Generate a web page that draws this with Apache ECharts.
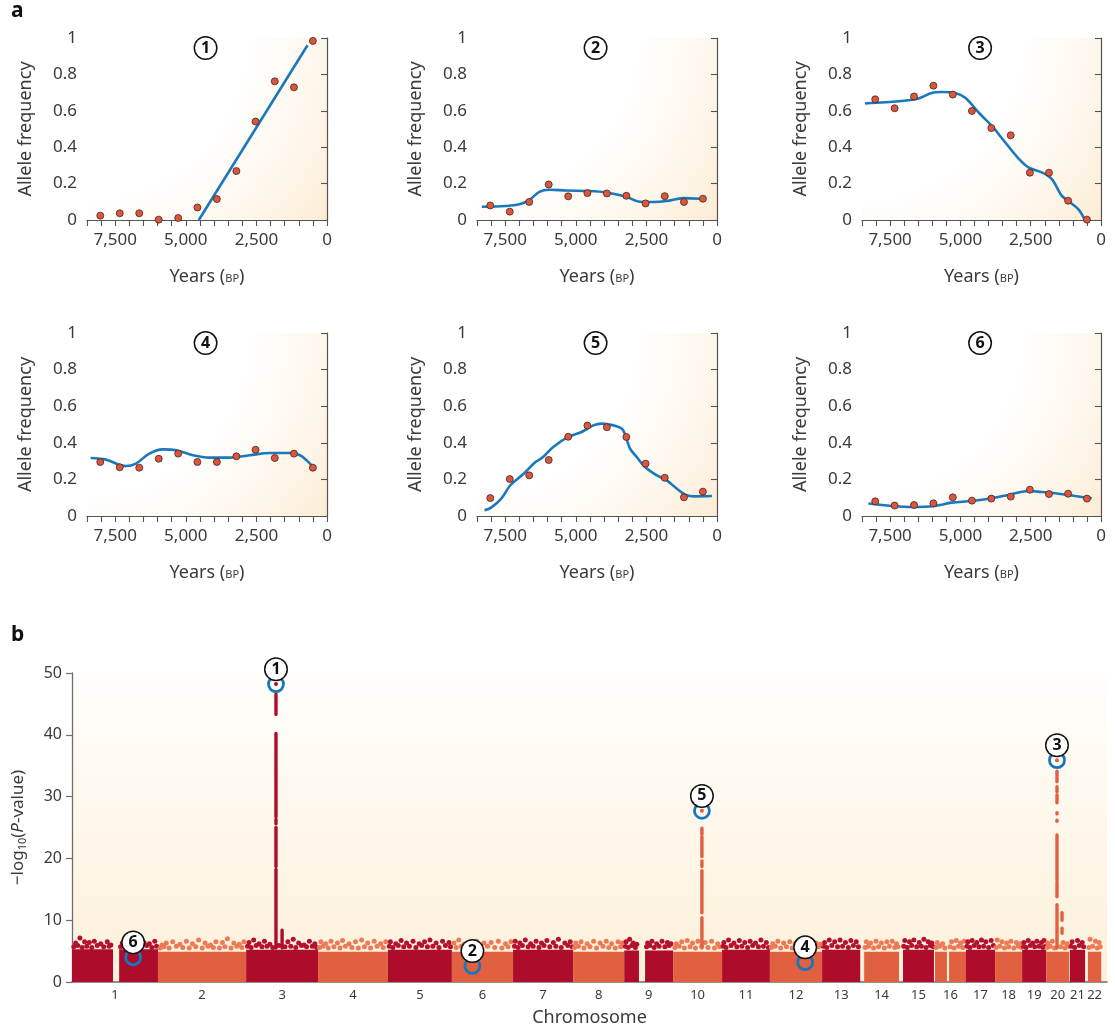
<!DOCTYPE html>
<html>
<head>
<meta charset="utf-8">
<script src="https://cdn.jsdelivr.net/npm/echarts@6/dist/echarts.min.js"></script>
<style>html,body{margin:0;padding:0;background:#fff}#main{width:1115px;height:1030px}</style>
</head>
<body>
<div id="main"></div>
<script>
var chart = echarts.init(document.getElementById('main'));

// ---- panel a: allele frequency time series ----
var sampleYears = [8030, 7340, 6650, 5960, 5270, 4590, 3900, 3210, 2530, 1850, 1170, 500];
var freq1 = [0.024, 0.037, 0.037, 0.002, 0.011, 0.069, 0.115, 0.269, 0.541, 0.762, 0.729, 0.984];
var freq2 = [0.080, 0.046, 0.099, 0.195, 0.130, 0.148, 0.146, 0.133, 0.091, 0.131, 0.099, 0.117];
var freq3 = [0.663, 0.614, 0.679, 0.738, 0.689, 0.599, 0.505, 0.465, 0.260, 0.260, 0.106, 0.002];
var freq4 = [0.295, 0.266, 0.264, 0.313, 0.341, 0.295, 0.295, 0.326, 0.362, 0.317, 0.341, 0.264];
var freq5 = [0.098, 0.202, 0.222, 0.306, 0.433, 0.494, 0.485, 0.432, 0.286, 0.209, 0.102, 0.133];
var freq6 = [0.080, 0.057, 0.060, 0.069, 0.102, 0.084, 0.095, 0.106, 0.144, 0.120, 0.122, 0.095];

// fitted curves (years BP, frequency)
var fit1 = [[4540, 0], [690, 0.96]];
var fit2 = [[8330, 0.073], [7480, 0.077], [7000, 0.086], [6650, 0.109], [6290, 0.155], [5940, 0.166], [5340, 0.162],
            [4510, 0.159], [3920, 0.151], [3210, 0.128], [2740, 0.100], [2260, 0.099], [1790, 0.104], [1200, 0.120], [600, 0.117]];
var fit3 = [[8390, 0.641], [7680, 0.647], [6850, 0.658], [6490, 0.668], [6020, 0.698], [5660, 0.703], [5190, 0.698],
            [4830, 0.672], [4360, 0.592], [3890, 0.518], [3410, 0.427], [2940, 0.339], [2580, 0.289], [2110, 0.262],
            [1750, 0.225], [1400, 0.134], [1160, 0.104], [810, 0.060], [590, 0.005]];
var fit4 = [[8370, 0.317], [7830, 0.308], [7120, 0.273], [6770, 0.286], [6290, 0.341], [5820, 0.364], [5340, 0.359],
            [4750, 0.332], [4160, 0.319], [3450, 0.319], [2740, 0.332], [2030, 0.344], [1320, 0.344], [960, 0.332],
            [720, 0.304], [510, 0.271]];
var fit5 = [[8235, 0.031], [8000, 0.046], [7640, 0.095], [7320, 0.168], [6870, 0.228], [6430, 0.295], [6160, 0.322],
            [5800, 0.377], [5270, 0.432], [4800, 0.459], [4380, 0.495], [4090, 0.505], [3555, 0.490], [3320, 0.468],
            [3080, 0.368], [2840, 0.322], [2550, 0.268], [2130, 0.222], [1780, 0.195], [1420, 0.149], [1125, 0.117],
            [830, 0.107], [180, 0.109]];
var fit6 = [[8270, 0.068], [7440, 0.055], [6730, 0.049], [5900, 0.055], [5310, 0.073], [4600, 0.082], [3890, 0.097],
            [3180, 0.119], [2580, 0.137], [2110, 0.131], [1520, 0.122], [920, 0.109], [330, 0.097]];
var panelTags = ['1', '2', '3', '4', '5', '6'];

// ---- panel b: genome scan (positions in Mb along the concatenated genome) ----
var chromNames = ['1','2','3','4','5','6','7','8','9','10','11','12','13','14','15','16','17','18','19','20','21','22'];
var chromStart = [0, 239, 484, 684, 878, 1056, 1226, 1393, 1535, 1671, 1807, 1940, 2085, 2202, 2310, 2399, 2485, 2566, 2641, 2708, 2774, 2824];
var chromEnd   = [239, 484, 684, 878, 1056, 1226, 1393, 1535, 1671, 1807, 1940, 2085, 2191, 2299, 2396, 2485, 2566, 2641, 2708, 2772, 2816, 2861];
var chromBulk  = [5.3, 4.9, 5.2, 4.9, 5.2, 4.9, 5.2, 4.9, 5.1, 4.9, 5.2, 4.9, 5.2, 4.9, 5.2, 4.9, 5.2, 4.9, 5.2, 4.9, 5.2, 4.9];
var chromGaps  = [[114, 131], [1576, 1593], [2432, 2438]];

// sparse SNPs just above the dense bulk
var fringeLow = [
  [5,5.7],[16,5.9],[28,5.6],[41,5.8],[55,5.6],[70,5.9],[88,5.7],[103,5.8],[135,5.7],[145,5.9],[157,5.6],[168,5.9],[182,5.7],[195,5.8],[208,5.9],[222,5.6],[235,5.8],
  [245,5.5],[256,5.7],[270,5.5],[290,5.8],[308,5.6],[326,5.5],[344,5.7],[362,5.5],[378,5.8],[393,5.6],[410,5.5],[425,5.7],[442,5.5],[458,5.8],[472,5.6],
  [488,5.8],[498,5.6],[512,5.9],[528,5.7],[542,5.8],[558,5.6],[575,5.9],[592,5.7],[608,5.8],[622,5.6],[638,5.9],[652,5.7],[668,5.8],[680,5.6],
  [688,5.6],[698,5.8],[712,5.5],[728,5.7],[745,5.5],[760,5.8],[778,5.6],[796,5.5],[813,5.7],[830,5.5],[848,5.8],[865,5.6],
  [882,5.8],[892,5.6],[907,5.9],[922,5.7],[938,5.8],[956,5.6],[972,5.9],[988,5.7],[1003,5.8],[1020,5.6],[1038,5.9],[1052,5.7],
  [1068,5.6],[1082,5.8],[1098,5.5],[1116,5.7],[1135,5.5],[1155,5.8],[1175,5.6],[1195,5.5],[1212,5.7],
  [1230,5.8],[1240,5.6],[1252,5.9],[1268,5.7],[1282,5.8],[1298,5.6],[1312,5.9],[1328,5.7],[1345,5.8],[1360,5.6],[1378,5.9],[1390,5.7],
  [1397,5.6],[1408,5.8],[1423,5.5],[1440,5.7],[1458,5.5],[1476,5.8],[1492,5.6],[1510,5.5],[1525,5.7],
  [1538,5.8],[1546,5.6],[1556,5.9],[1566,5.6],[1597,5.7],[1606,5.9],[1618,5.6],[1632,5.8],[1648,5.7],[1660,5.9],
  [1676,5.6],[1688,5.8],[1702,5.5],[1718,5.7],[1733,5.5],[1750,5.8],[1768,5.6],[1786,5.5],[1800,5.7],
  [1810,5.8],[1818,5.6],[1832,5.9],[1848,5.7],[1862,5.8],[1878,5.6],[1892,5.9],[1908,5.7],[1922,5.8],[1936,5.6],
  [1944,5.6],[1955,5.8],[1970,5.5],[1986,5.7],[2002,5.5],[2020,5.8],[2040,5.6],[2058,5.5],[2075,5.7],
  [2088,5.8],[2098,5.6],[2112,5.9],[2128,5.7],[2142,5.8],[2158,5.6],[2172,5.9],[2186,5.7],
  [2205,5.6],[2214,5.8],[2228,5.5],[2242,5.7],[2258,5.5],[2272,5.8],[2287,5.6],[2296,5.7],
  [2312,5.8],[2322,5.6],[2334,5.9],[2348,5.7],[2361,5.8],[2374,5.6],[2386,5.9],[2394,5.7],
  [2402,5.6],[2412,5.8],[2426,5.5],[2441,5.7],[2452,5.5],[2464,5.8],[2476,5.6],
  [2488,5.8],[2496,5.6],[2508,5.9],[2521,5.7],[2534,5.8],[2548,5.6],[2561,5.9],
  [2569,5.6],[2579,5.8],[2592,5.5],[2604,5.7],[2618,5.5],[2630,5.8],[2639,5.6],
  [2644,5.8],[2652,5.6],[2664,5.9],[2676,5.7],[2688,5.8],[2699,5.6],[2706,5.8],
  [2711,5.6],[2719,5.8],[2731,5.5],[2748,5.7],[2760,5.5],[2769,5.8],
  [2777,5.8],[2787,5.6],[2800,5.9],[2812,5.7],
  [2827,5.6],[2837,5.8],[2850,5.5],[2858,5.7]
];
// scattered SNPs higher up
var fringeHigh = [
  [10,6.3],[22,7.1],[35,6.5],[48,6.4],[62,6.6],[80,6.2],[98,6.5],[108,6.0],[140,6.3],[150,6.1],[162,6.6],[175,6.3],[190,6.7],[200,6.4],[215,6.2],[230,6.6],
  [250,6.0],[262,6.3],[280,6.5],[300,6.1],[318,6.6],[335,6.2],[352,6.8],[370,6.3],[385,6.0],[400,6.5],[418,6.4],[432,7.0],[450,6.3],[465,6.1],[478,6.5],
  [492,6.4],[505,6.8],[520,6.2],[535,6.6],[550,6.1],[600,6.5],[615,6.9],[630,6.3],[645,6.0],[660,6.6],[675,6.2],
  [692,6.5],[705,6.2],[720,6.6],[738,6.3],[752,6.7],[770,6.2],[788,6.5],[805,6.8],[822,6.3],[840,6.6],[858,6.2],[872,6.5],
  [885,6.5],[900,6.2],[915,6.7],[930,6.3],[948,6.6],[965,6.2],[980,6.5],[995,6.8],[1012,6.3],[1030,6.6],[1048,6.4],
  [1062,6.3],[1075,6.8],[1090,6.1],[1108,6.2],[1125,6.6],[1145,6.3],[1165,6.4],[1185,6.6],[1205,6.2],[1220,6.5],
  [1232,6.6],[1245,6.3],[1260,6.8],[1275,6.2],[1290,6.6],[1305,6.3],[1320,6.7],[1338,6.4],[1352,6.9],[1370,6.3],[1385,6.5],
  [1400,6.3],[1415,6.5],[1432,6.2],[1450,6.6],[1468,6.3],[1485,6.6],[1500,6.2],[1518,6.5],[1530,6.3],
  [1540,6.5],[1550,6.9],[1560,6.3],[1570,6.1],[1600,6.3],[1612,6.6],[1625,6.2],[1640,6.6],[1655,6.4],[1665,6.2],
  [1680,6.2],[1695,6.5],[1710,6.7],[1725,6.3],[1740,6.6],[1760,6.4],[1778,6.6],[1795,6.2],
  [1812,6.4],[1825,6.8],[1840,6.3],[1855,6.7],[1870,6.4],[1885,6.6],[1900,6.3],[1915,6.8],[1930,6.4],
  [1948,6.2],[1962,6.6],[1978,6.3],[1995,6.5],[2010,6.2],[2030,6.4],[2050,6.6],[2068,6.3],[2080,6.1],
  [2092,6.4],[2105,6.8],[2120,6.5],[2135,6.8],[2150,6.4],[2165,6.7],[2180,6.5],
  [2208,6.5],[2220,6.3],[2235,6.6],[2250,6.3],[2265,6.5],[2280,6.6],[2292,6.2],
  [2315,6.7],[2328,6.5],[2340,6.8],[2355,6.4],[2368,6.9],[2380,6.5],[2390,6.3],
  [2405,6.4],[2420,6.2],[2445,6.5],[2458,6.7],[2470,6.3],[2480,6.6],
  [2490,6.5],[2502,6.7],[2515,6.4],[2528,6.8],[2540,6.5],[2555,6.7],
  [2572,6.8],[2585,6.5],[2598,6.3],[2610,6.6],[2625,6.4],[2636,6.2],
  [2646,6.4],[2658,6.7],[2670,6.3],[2682,6.6],[2695,6.4],[2702,6.7],
  [2712,6.3],[2725,6.6],[2755,6.4],[2766,6.2],
  [2780,6.5],[2795,6.7],[2808,6.4],
  [2830,6.9],[2845,6.6],[2855,6.4]
];

// runs of significant SNPs stacked at the selected loci: [position, from, to]
var peakRuns = [
  [567,5.5,18.2],[567,18.7,25.0],[567,25.6,26.3],[567,26.7,40.2],[567,43.3,46.6],[584,5.5,8.4],
  [1751,5.5,10.4],[1751,11.2,18.0],[1751,18.7,19.6],[1751,20.3,23.5],[1751,23.9,24.9],
  [2738,5.5,12.5],[2738,13.8,16.2],[2738,16.5,23.8],[2738,26.0,26.2],[2738,27.2,27.4],
  [2738,29.0,30.3],[2738,30.8,31.6],[2738,32.4,34.1],[2752,7.9,8.7],[2752,10.0,11.2]
];
var peakTops = [[567, 48.2], [1751, 27.7], [2738, 35.9]];

// highlighted loci, numbered as in panel a
var hitPos = [567, 1113, 2738, 2038, 1751, 170];
var hitVal = [48.2, 2.6, 35.9, 3.2, 27.7, 4.0];

var FONT = 'Noto Sans';
var DARK = '#ad0d2b', LIGHT = '#e1603f';
var DARK_DOT = '#b3112f', LIGHT_DOT = '#ec7a57';

function chromIndexOf(pos) {
  for (var c = 0; c < chromStart.length; c++) {
    if (pos >= chromStart[c] && pos <= chromEnd[c]) return c;
  }
  return 0;
}

function circled(txt) {
  return {
    show: true, formatter: txt, color: '#111', fontFamily: FONT, fontWeight: 'bold', fontSize: 16,
    backgroundColor: '#fff', borderColor: '#111', borderWidth: 1.5, borderRadius: 11,
    textBorderWidth: 0, textShadowBlur: 0,
    width: 21, height: 21, lineHeight: 21, align: 'center', verticalAlign: 'middle', padding: 0
  };
}

var panelFreqs = [freq1, freq2, freq3, freq4, freq5, freq6];
var panelFits = [fit1, fit2, fit3, fit4, fit5, fit6];
var panelLeft = [87, 477, 862];
var panelWidth = [240, 240, 239];
var panelTop = [38, 333];

var grids = [], xAxes = [], yAxes = [], series = [];

for (var i = 0; i < 6; i++) {
  var col = i % 3, row = Math.floor(i / 3);
  grids.push({
    left: panelLeft[col], top: panelTop[row], width: panelWidth[col], height: 182 + row,
    show: true, borderWidth: 0,
    backgroundColor: new echarts.graphic.RadialGradient(0, 0, 1.75, [
      {offset: 0, color: '#ffffff'}, {offset: 0.5, color: '#ffffff'},
      {offset: 0.8, color: '#fdf4e6'}, {offset: 1, color: '#fbe9cb'}
    ])
  });
  xAxes.push({
    gridIndex: i, type: 'value', inverse: true, min: 0, max: 8500, interval: 500,
    axisLine: {lineStyle: {color: '#555', width: 1.2}},
    axisTick: {length: 6, lineStyle: {color: '#555', width: 1.1}},
    splitLine: {show: false},
    axisLabel: {
      fontFamily: FONT, fontSize: 17, color: '#3a3a3a', margin: 12,
      formatter: function (v) { return v % 2500 === 0 ? echarts.format.addCommas(v) : ''; }
    },
    name: 'Years ({s|BP})', nameLocation: 'middle', nameGap: 48,
    nameTextStyle: {fontFamily: FONT, fontSize: 18, color: '#3a3a3a',
      rich: {s: {fontFamily: FONT, fontSize: 11, color: '#3a3a3a', padding: [4, 0, 0, 0]}}}
  });
  yAxes.push({
    gridIndex: i, type: 'value', min: 0, max: 1, interval: 0.2,
    axisLine: {show: true, lineStyle: {color: '#555', width: 1.2}},
    axisTick: {show: true, length: 6, lineStyle: {color: '#555', width: 1.1}},
    splitLine: {show: false},
    axisLabel: {
      fontFamily: FONT, fontSize: 17, color: '#3a3a3a', margin: 10,
      formatter: function (v) { return (v === 0 || v === 1) ? String(v) : v.toFixed(1); }
    },
    name: 'Allele frequency', nameLocation: 'middle', nameGap: 52,
    nameTextStyle: {fontFamily: FONT, fontSize: 18, color: '#3a3a3a'}
  });
  series.push({
    type: 'line', xAxisIndex: i, yAxisIndex: i, data: panelFits[i],
    smooth: i === 0 ? false : 0.35, symbol: 'none', silent: true, z: 3,
    lineStyle: {color: '#1a78bb', width: 2.6}
  });
  series.push({
    type: 'scatter', xAxisIndex: i, yAxisIndex: i, z: 4, symbolSize: 7,
    data: sampleYears.map(function (yr, k) { return [yr, panelFreqs[i][k]]; }),
    itemStyle: {color: '#e0553a', borderColor: '#3b2a2a', borderWidth: 0.8, opacity: 1}
  });
  series.push({
    type: 'scatter', xAxisIndex: i, yAxisIndex: i, z: 5, symbolSize: 0, silent: true,
    data: [[4300, 0.945]], itemStyle: {opacity: 1},
    label: Object.assign(circled(panelTags[i]), {position: 'inside'})
  });
}

// ---- panel b grid ----
var chromMid = chromStart.map(function (s, c) { return (s + chromEnd[c]) / 2; });

grids.push({
  left: 72, top: 673, width: 1035, height: 309, show: true, borderWidth: 0,
  backgroundColor: new echarts.graphic.LinearGradient(0, 0, 0, 1, [
    {offset: 0, color: '#fffefc'}, {offset: 1, color: '#fcf0d9'}
  ])
});
xAxes.push({
  gridIndex: 6, type: 'value', min: 0, max: 2877, interval: 2877,
  axisLine: {lineStyle: {color: '#6e6e6e', width: 1.6}},
  axisTick: {show: false},
  splitLine: {show: false},
  axisLabel: {
    customValues: chromMid, fontFamily: FONT, fontSize: 13, color: '#3a3a3a', margin: 7,
    formatter: function (v) { var k = chromMid.indexOf(v); return k < 0 ? '' : chromNames[k]; }
  },
  name: 'Chromosome', nameLocation: 'middle', nameGap: 27,
  nameTextStyle: {fontFamily: FONT, fontSize: 18, color: '#3a3a3a'}
});
yAxes.push({
  gridIndex: 6, type: 'value', min: 0, max: 50, interval: 10,
  axisLine: {show: true, lineStyle: {color: '#6e6e6e', width: 1.3}},
  axisTick: {show: true, length: 6, lineStyle: {color: '#6e6e6e', width: 1.2}},
  splitLine: {show: false},
  axisLabel: {fontFamily: FONT, fontSize: 16, color: '#3a3a3a', margin: 10},
  name: '\u2212log{sub|10}({it|P}-value)', nameLocation: 'middle', nameGap: 44,
  nameTextStyle: {fontFamily: FONT, fontSize: 17, color: '#3a3a3a',
    rich: {
      sub: {fontFamily: FONT, fontSize: 11, color: '#3a3a3a', padding: [9, 0, 0, 0]},
      it: {fontFamily: FONT, fontSize: 17, color: '#3a3a3a', fontStyle: 'italic'}
    }}
});

// dense bulk of each chromosome, split around gaps
var bulkRects = [];
chromStart.forEach(function (s, c) {
  var pieces = [[s, chromEnd[c]]];
  chromGaps.forEach(function (g) {
    pieces = pieces.reduce(function (acc, p) {
      if (g[0] > p[0] && g[1] < p[1]) { acc.push([p[0], g[0]], [g[1], p[1]]); } else { acc.push(p); }
      return acc;
    }, []);
  });
  pieces.forEach(function (p) { bulkRects.push([p[0], p[1], chromBulk[c], c % 2]); });
});

series.push({
  type: 'custom', xAxisIndex: 6, yAxisIndex: 6, silent: true, z: 2,
  data: bulkRects, encode: {x: [0, 1], y: 2},
  renderItem: function (params, api) {
    var a = api.coord([api.value(0), api.value(2)]);
    var b = api.coord([api.value(1), 0]);
    return {type: 'rect', shape: {x: a[0], y: a[1], width: b[0] - a[0], height: b[1] - a[1]},
      style: {fill: api.value(3) ? LIGHT : DARK}};
  }
});

function dotColor(p) { return chromIndexOf(p.value[0]) % 2 ? LIGHT_DOT : DARK_DOT; }

series.push({
  type: 'scatter', xAxisIndex: 6, yAxisIndex: 6, silent: true, z: 2, symbolSize: 5,
  data: fringeLow, itemStyle: {color: dotColor, opacity: 1}
});
series.push({
  type: 'scatter', xAxisIndex: 6, yAxisIndex: 6, silent: true, z: 2, symbolSize: 5,
  data: fringeHigh, itemStyle: {color: dotColor, opacity: 1}
});

series.push({
  type: 'custom', xAxisIndex: 6, yAxisIndex: 6, silent: true, z: 3,
  data: peakRuns, encode: {x: 0, y: [1, 2]},
  renderItem: function (params, api) {
    var a = api.coord([api.value(0), api.value(1)]);
    var b = api.coord([api.value(0), api.value(2)]);
    var c = chromIndexOf(api.value(0));
    return {type: 'line', shape: {x1: a[0], y1: a[1], x2: b[0], y2: b[1]},
      style: {stroke: c % 2 ? LIGHT : DARK, lineWidth: 3.4, lineCap: 'round'}};
  }
});

series.push({
  type: 'scatter', xAxisIndex: 6, yAxisIndex: 6, silent: true, z: 4, symbolSize: 4,
  data: peakTops,
  itemStyle: {opacity: 1, color: function (p) { return chromIndexOf(p.value[0]) % 2 ? LIGHT : DARK; }}
});

series.push({
  type: 'scatter', xAxisIndex: 6, yAxisIndex: 6, silent: true, z: 5, symbolSize: 15,
  data: hitPos.map(function (p, k) { return {value: [p, hitVal[k]], label: circled(panelTags[k])}; }),
  itemStyle: {color: 'rgba(0,0,0,0)', borderColor: '#1777bd', borderWidth: 2.8, opacity: 1},
  label: {position: 'top', distance: 6}
});

var option = {
  animation: false,
  backgroundColor: '#ffffff',
  textStyle: {fontFamily: FONT},
  grid: grids,
  xAxis: xAxes,
  yAxis: yAxes,
  series: series,
  graphic: [
    {type: 'text', left: 11, top: 1, style: {text: 'a', font: 'bold 21px "Noto Sans"', fill: '#111'}},
    {type: 'text', left: 11, top: 625, style: {text: 'b', font: 'bold 21px "Noto Sans"', fill: '#111'}}
  ]
};

chart.setOption(option);
</script>
</body>
</html>
